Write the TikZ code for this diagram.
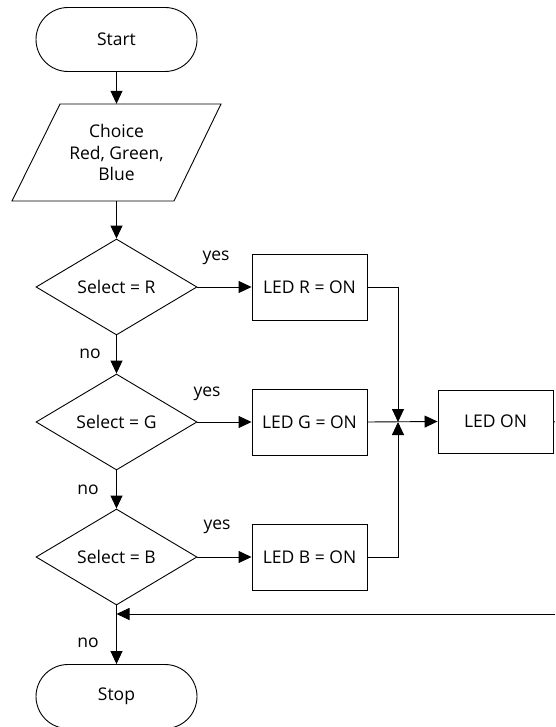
\documentclass[tikz,border=0pt]{standalone}
\usepackage{fontspec}
\setmainfont{Open Sans}
\usetikzlibrary{shapes.geometric,shapes.misc,arrows.meta}
\begin{document}
\begin{tikzpicture}[x=1pt,y=-1pt,
  every node/.style={font=\fontsize{17.5}{21.5}\selectfont},
  line/.style={draw=black,line width=0.9pt},
  arr/.style={line,-{Triangle[length=13pt,width=12pt]}},
  term/.style={rounded rectangle,draw,line width=0.9pt,minimum width=161pt,minimum height=64pt,inner sep=0pt},
  dec/.style={diamond,draw,line width=0.9pt,minimum width=161pt,minimum height=96pt,inner sep=0pt},
  proc/.style={rectangle,draw,line width=0.9pt,minimum width=115pt,minimum height=66pt,inner sep=0pt},
  lbl/.style={inner sep=0pt}]
\useasboundingbox (0,0) rectangle (555,727);
\node[term] (start) at (116.5,39.5) {Start};
\draw[line] (60,104) -- (221,104) -- (174,201) -- (12,201) -- cycle;
\node[minimum height=97pt,inner sep=0pt,align=center] (choice) at (116.5,152.5) {Choice\\Red, Green,\\Blue};
\node[dec] (decR) at (116.5,287) {Select = R};
\node[dec] (decG) at (116.5,422) {Select = G};
\node[dec] (decB) at (116.5,557) {Select = B};
\node[proc] (ledR) at (309.5,287) {LED R = ON};
\node[proc] (ledG) at (309.5,422) {LED G = ON};
\node[proc] (ledB) at (309.5,557) {LED B = ON};
\node[proc,minimum height=63pt] (ledon) at (495.5,421.5) {LED ON};
\node[term] (stop) at (116.5,696.5) {Stop};
\coordinate (j) at (398,422);
\coordinate (edgeA) at (555,422);
\coordinate (edgeB) at (555,614);
\coordinate (m) at (116.5,614);
\draw[arr] (start.south) -- (choice.north);
\draw[arr] (choice.south) -- (decR.north);
\draw[arr] (decR.south) -- (decG.north);
\draw[arr] (decG.south) -- (decB.north);
\draw[arr] (decB.south) -- (stop.north);
\draw[arr] (decR.east) -- (ledR.west);
\draw[arr] (decG.east) -- (ledG.west);
\draw[arr] (decB.east) -- (ledB.west);
\draw[arr] (ledR.east) -| (j);
\draw[arr] (ledB.east) -| (j);
\draw[arr] (ledG.east) -- (ledon.west);
\draw[line] (ledon.east) -- (edgeA);
\draw[arr] (edgeB) -- (m);
\node[lbl] (y1) at (216,258) {yes};
\node[lbl] (y2) at (207,394) {yes};
\node[lbl] (y3) at (217,527) {yes};
\node[lbl] (n1) at (90,354) {no};
\node[lbl] (n2) at (88,490) {no};
\node[lbl] (n3) at (88,643) {no};
\end{tikzpicture}
\end{document}
